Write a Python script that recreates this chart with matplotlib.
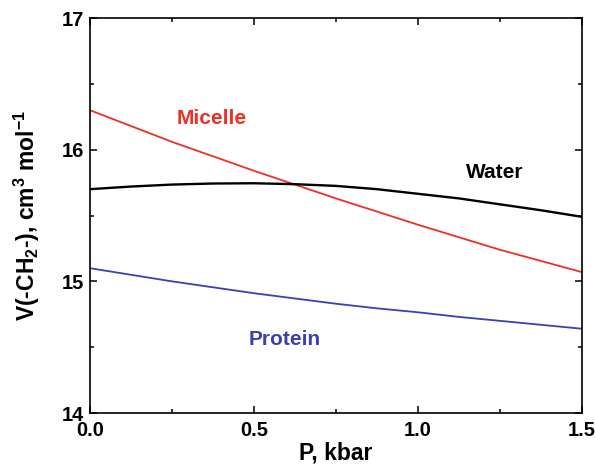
import matplotlib
matplotlib.use("Agg")
from matplotlib import pyplot as plt
from matplotlib.ticker import MultipleLocator, FormatStrFormatter

plt.rcParams['font.family'] = ['Liberation Sans', 'DejaVu Sans']
plt.rcParams['font.weight'] = 'bold'
plt.rcParams['mathtext.fontset'] = 'custom'
plt.rcParams['mathtext.rm'] = 'Liberation Sans:bold'
plt.rcParams['mathtext.it'] = 'Liberation Sans:bold'
plt.rcParams['mathtext.bf'] = 'Liberation Sans:bold'

# pressure, kbar
pressure = [0.0, 0.125, 0.25, 0.375, 0.5, 0.625, 0.75, 0.875, 1.0, 1.125, 1.25, 1.375, 1.5]
# V(-CH2-) in cm3/mol
micelle = [16.30, 16.18, 16.06, 15.95, 15.84, 15.735, 15.63, 15.53, 15.43, 15.335, 15.24, 15.155, 15.07]
water = [15.70, 15.72, 15.735, 15.743, 15.745, 15.738, 15.725, 15.70, 15.665, 15.63, 15.585, 15.54, 15.49]
protein = [15.10, 15.05, 15.00, 14.955, 14.91, 14.87, 14.83, 14.795, 14.765, 14.73, 14.70, 14.67, 14.64]

fig = plt.figure(figsize=(5.95, 4.68), dpi=100)
ax = fig.add_axes([0.151, 0.1175, 0.827, 0.844])

ax.plot(pressure, micelle, color="#ee2f22", lw=1.3)
ax.plot(pressure, water, color="black", lw=1.7)
ax.plot(pressure, protein, color="#3b3fb4", lw=1.3)

ax.text(0.37, 16.24, "Micelle", color="#ee2f22", fontsize=15, fontweight="bold", ha="center", va="center")
ax.text(1.235, 15.83, "Water", color="black", fontsize=15, fontweight="bold", ha="center", va="center")
ax.text(0.595, 14.555, "Protein", color="#3b3fb4", fontsize=15, fontweight="bold", ha="center", va="center")

ax.set_xlim(0, 1.5)
ax.set_ylim(14, 17)
ax.xaxis.set_major_locator(MultipleLocator(0.5))
ax.xaxis.set_minor_locator(MultipleLocator(0.25))
ax.yaxis.set_major_locator(MultipleLocator(1))
ax.yaxis.set_minor_locator(MultipleLocator(0.5))
ax.tick_params(which="both", direction="in", top=True, right=True, width=1.1)
ax.tick_params(which="major", length=5, labelsize=14.5)
ax.tick_params(which="minor", length=3)
ax.tick_params(axis="x", which="major", pad=6)
ax.tick_params(axis="y", which="major", pad=4)
ax.xaxis.set_major_formatter(FormatStrFormatter("%.1f"))
for lab in ax.get_xticklabels() + ax.get_yticklabels():
    lab.set_fontweight("bold")
for s in ax.spines.values():
    s.set_linewidth(1.2)

ax.set_xlabel("P, kbar", fontsize=16.5, fontweight="bold", labelpad=1)
ax.set_ylabel(r"V(-CH$_2$-), cm$^3$ mol$^{-1}$", fontsize=16.5, fontweight="bold", labelpad=14)

fig.savefig("out.png", dpi=100)
